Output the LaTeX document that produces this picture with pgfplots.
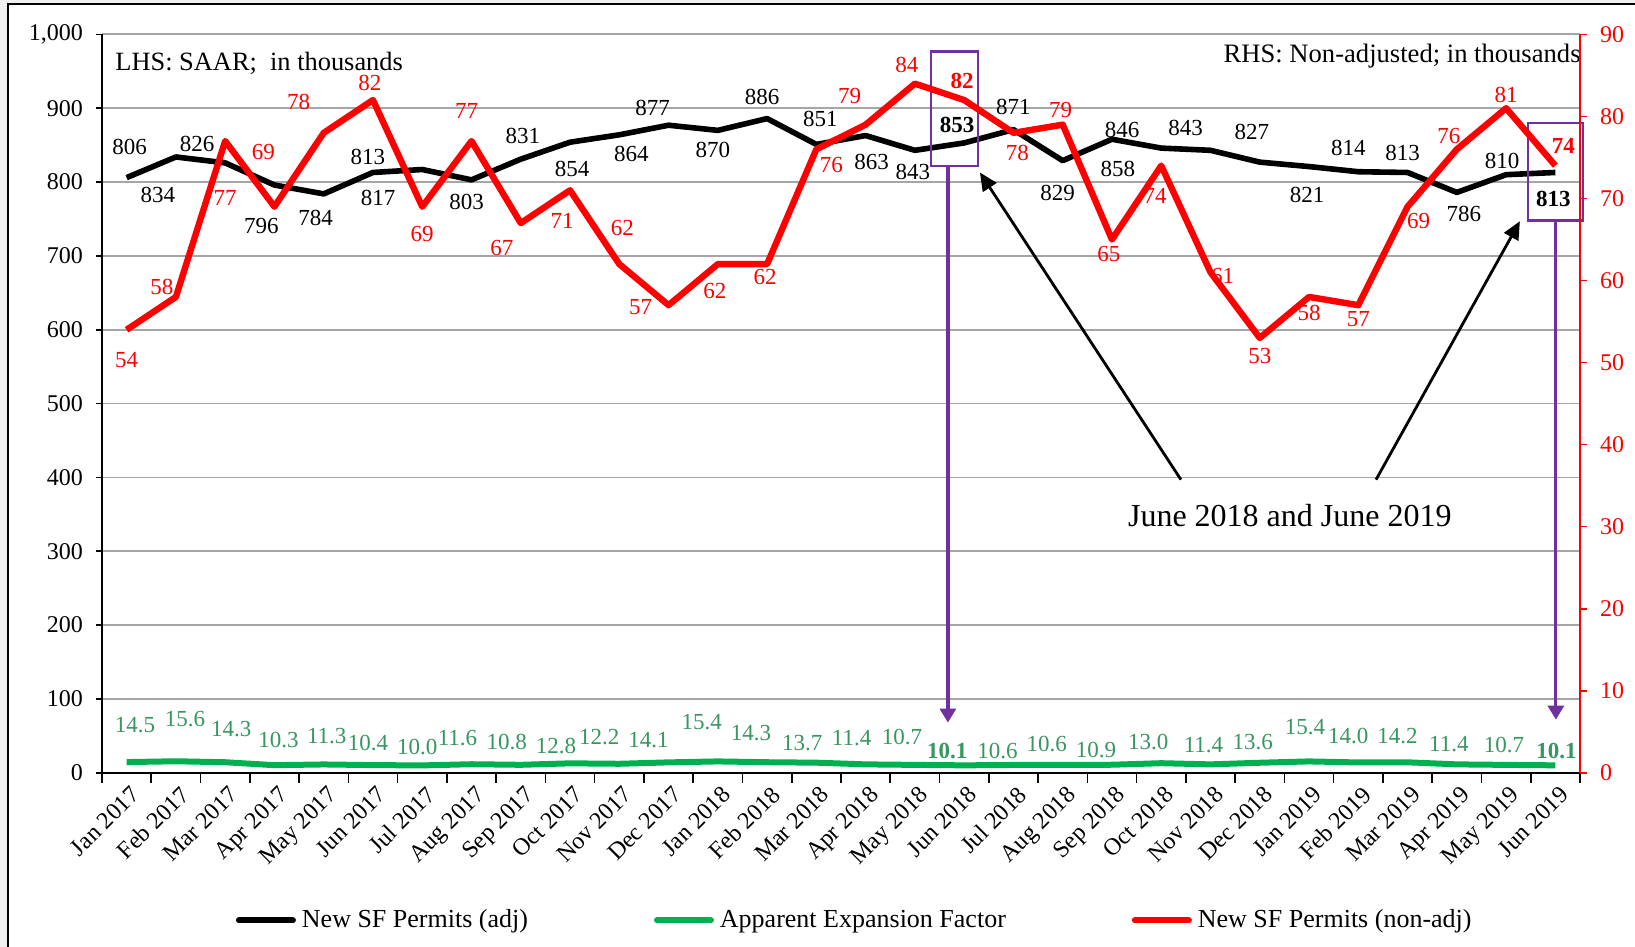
\documentclass[border=0pt]{standalone}
\usepackage{fontspec}
\setmainfont{Liberation Serif}
\usepackage{pgfplots}
\pgfplotsset{compat=1.18}
\usepackage{pgfplotstable}
\usetikzlibrary{arrows.meta}
\definecolor{sfgreen}{RGB}{0,176,80}
\definecolor{lblgreen}{RGB}{56,150,96}
\definecolor{annpurple}{RGB}{112,48,160}
\definecolor{gridgray}{RGB}{166,166,166}

% month index, value, label shift (pt), bold flag
\pgfplotstableread{
x v dx dy b
0 806 1.5 15.5 0
1 834 -9 -19 0
2 826 -14 9.5 0
3 796 -6.5 -20.5 0
4 784 -4 -12 0
5 813 -2.5 8 0
6 817 -22 -14 0
7 803 -2.5 -11 0
8 831 1 11.5 0
9 854 1 -13.5 0
10 864 6 -9.5 0
11 877 -8 8.5 0
12 870 -2.5 -10 0
13 886 -2.5 11 0
14 851 2 12.5 0
15 863 3 -13 0
16 843 -1 -11 0
17 853 -3.5 9 1
18 871 0 11.5 0
19 829 -2.5 -16 0
20 858 3 -15 0
21 846 -19.5 9 0
22 843 -12.5 11 0
23 827 -4 15 0
24 821 -1 -14 0
25 814 -5 12 0
26 813 -2.5 10 0
27 786 3.5 -11 0
28 810 -2 7 0
29 813 -1 -13 1
}\adjtable

\pgfplotstableread{
x v dx dy b
0 14.5 4.2 18.3 0
1 15.6 4.5 21 0
2 14.3 3 16.5 0
3 10.3 2 12.5 0
4 11.3 1.5 14 0
5 10.4 -2.5 11 0
6 10.0 -2.5 9 0
7 11.6 -7 13 0
8 10.8 -7 11.5 0
9 12.8 -7 8.5 0
10 12.2 -10 13.5 0
11 14.1 -10 11 0
12 15.4 -8 19.5 0
13 14.3 -8 14.5 0
14 13.7 -7 10 0
15 11.4 -7 13 0
16 10.7 -6.5 14 0
17 10.1 -8.5 7 1
18 10.6 -8 6.8 0
19 10.6 -8 10.5 0
20 10.9 -8 7.5 0
21 13.0 -6.5 10.5 0
22 11.4 -3.5 9.5 0
23 13.6 -3.5 10.5 0
24 15.4 -2 17 0
25 14.0 -5 13 0
26 14.2 -5 13 0
27 11.4 -4 10 0
28 10.7 -1 10 0
29 10.1 0.5 7 1
}\factortable

\pgfplotstableread{
x v dx dy b
0 54 0 -15 0
1 58 -7 5 0
2 77 0 -28.5 0
3 69 -5.5 27.5 0
4 78 -12.5 15.5 0
5 82 -1.5 8.5 0
6 69 0 -13.5 0
7 77 -2.5 15 0
8 67 -9.5 -12.5 0
9 71 -4 -15.5 0
10 62 1.5 18 0
11 57 -14 -1 0
12 62 -1.5 -13.5 0
13 62 -1 -6.5 0
14 76 7.5 -8 0
15 79 -8 14.5 0
16 84 -4 9.5 0
17 82 -1 9.5 1
18 78 2 -10 0
19 79 -1 7.5 0
20 65 -1.5 -7 0
21 74 -3 -15 0
22 61 6 -2 0
23 53 0 -9 0
24 58 0 -8 0
25 57 0 -7 0
26 69 5.5 -7 0
27 76 -4 6.5 0
28 81 0 6.5 0
29 74 4 10 1
}\nonadjtable

\pgfplotsset{
  base/.style={
    scale only axis, width=739pt, height=369.2pt,
    at={(51pt,87.1pt)}, anchor=south west,
    xmin=-0.5, xmax=29.5, clip=false,
    /pgf/number format/assume math mode=true,
    /pgf/number format/1000 sep={,},
    tick label style={font=\fontsize{12}{14}\selectfont},
    tick align=outside,
  },
  lbl/.style={
    visualization depends on={\thisrow{dx}\as\labdx},
    visualization depends on={\thisrow{dy}\as\labdy},
    visualization depends on={\thisrow{b}\as\labb},
    every node near coord/.append style={anchor=center, inner sep=0pt,
      xshift=\labdx pt, yshift=\labdy pt, font=\fontsize{11.5}{13}\selectfont},
  },
}

\begin{document}
\begin{tikzpicture}
\useasboundingbox (0,0) rectangle (817.5pt,473.5pt);
\fill[gray!12] (0,0) rectangle (817.5pt,473.5pt);
\fill[white] (4pt,0) rectangle (817.5pt,471.5pt);
\draw[black, line width=1pt] (4pt,0) -- (4pt,471.5pt) -- (817.5pt,471.5pt);

\begin{axis}[base,
  axis y line*=left, axis x line*=bottom,
  axis line style={black, line width=1pt},
  ymin=0, ymax=1000, ytick={0,100,...,1000},
  ymajorgrids, grid style={gridgray, line width=0.9pt},
  xtick={0,...,29},
  xticklabels={Jan 2017,Feb 2017,Mar 2017,Apr 2017,May 2017,Jun 2017,Jul 2017,Aug 2017,Sep 2017,Oct 2017,Nov 2017,Dec 2017,
    Jan 2018,Feb 2018,Mar 2018,Apr 2018,May 2018,Jun 2018,Jul 2018,Aug 2018,Sep 2018,Oct 2018,Nov 2018,Dec 2018,
    Jan 2019,Feb 2019,Mar 2019,Apr 2019,May 2019,Jun 2019},
  xticklabel style={rotate=45, anchor=north east, inner sep=1pt, yshift=-2pt},
  major x tick style={draw=none},
  minor xtick={-0.5,0.5,...,29.5},
  minor x tick style={black, line width=0.8pt},
  minor tick length=5pt, major tick length=3pt,
  ytick style={black, line width=0.8pt},
  yticklabel style={xshift=-3pt},
  legend columns=3,
  legend style={at={(0.51,-0.20)}, anchor=center, draw=none, fill=none,
    font=\fontsize{13}{15}\selectfont,
    /tikz/every even column/.append style={column sep=61pt},
    /tikz/every odd column/.append style={column sep=1pt}},
  legend image code/.code={\draw[#1, line cap=round] (0pt,0pt) -- (27pt,0pt);},
]
\addlegendimage{black, line width=3pt}
\addlegendentry{New SF Permits (adj)}
\addlegendimage{sfgreen, line width=3pt}
\addlegendentry{Apparent Expansion Factor}
\addlegendimage{red, line width=3pt}
\addlegendentry{New SF Permits (non-adj)}

\addplot[forget plot, black, line width=2.8pt, line join=round, mark=none, lbl,
  nodes near coords={\ifdim\labb pt>0.5pt\bfseries\fi\pgfmathprintnumber{\pgfplotspointmeta}},
  every node near coord/.append style={text=black}]
  table[x=x, y=v] {\adjtable};
\addplot[forget plot, sfgreen, line width=3pt, line join=round, mark=none, lbl,
  nodes near coords={\ifdim\labb pt>0.5pt\bfseries\fi\pgfmathprintnumber[fixed, fixed zerofill, precision=1]{\pgfplotspointmeta}},
  every node near coord/.append style={text=lblgreen}]
  table[x=x, y=v] {\factortable};

\node[anchor=west, inner sep=0pt, font=\fontsize{13.2}{15}\selectfont] at (axis cs:-0.236,961) {LHS: SAAR;\ \ in thousands};
\node[anchor=east, inner sep=0pt, font=\fontsize{13.3}{15}\selectfont] at (axis cs:29.52,970) {RHS: Non-adjusted; in thousands};
\node[font=\fontsize{16}{18}\selectfont] at (axis cs:23.61,349) {June 2018 and June 2019};

\draw[annpurple, line width=1.2pt] (axis cs:16.33,821.7) rectangle (axis cs:17.28,977);
\draw[annpurple, line width=1.2pt] (axis cs:28.44,748) rectangle (axis cs:29.56,879.6);
\draw[annpurple, line width=1.6pt, -{Triangle[length=7pt, width=8pt]}] (axis cs:16.67,821.7) -- (axis cs:16.67,68);
\draw[annpurple, line width=1.6pt, -{Triangle[length=7pt, width=8pt]}] (axis cs:29.01,748) -- (axis cs:29.01,72);
\draw[black, line width=1.4pt, -{Triangle[length=9pt, width=8pt]}] (axis cs:21.4,397) -- (axis cs:17.32,813);
\draw[black, line width=1.4pt, -{Triangle[length=9pt, width=8pt]}] (axis cs:25.36,397) -- (axis cs:28.28,747);
\end{axis}

\begin{axis}[base,
  axis y line*=right, axis x line=none,
  ymin=0, ymax=90, ytick={0,10,...,90},
  y axis line style={red, line width=1pt},
  ytick style={red, line width=0.8pt},
  yticklabel style={text=red, xshift=3pt},
  major tick length=3.5pt,
]
\addplot[red, line width=3.2pt, line join=round, mark=none, lbl,
  nodes near coords={\ifdim\labb pt>0.5pt\bfseries\fi\pgfmathprintnumber{\pgfplotspointmeta}},
  every node near coord/.append style={text=red}]
  table[x=x, y=v] {\nonadjtable};
\end{axis}
\end{tikzpicture}
\end{document}
